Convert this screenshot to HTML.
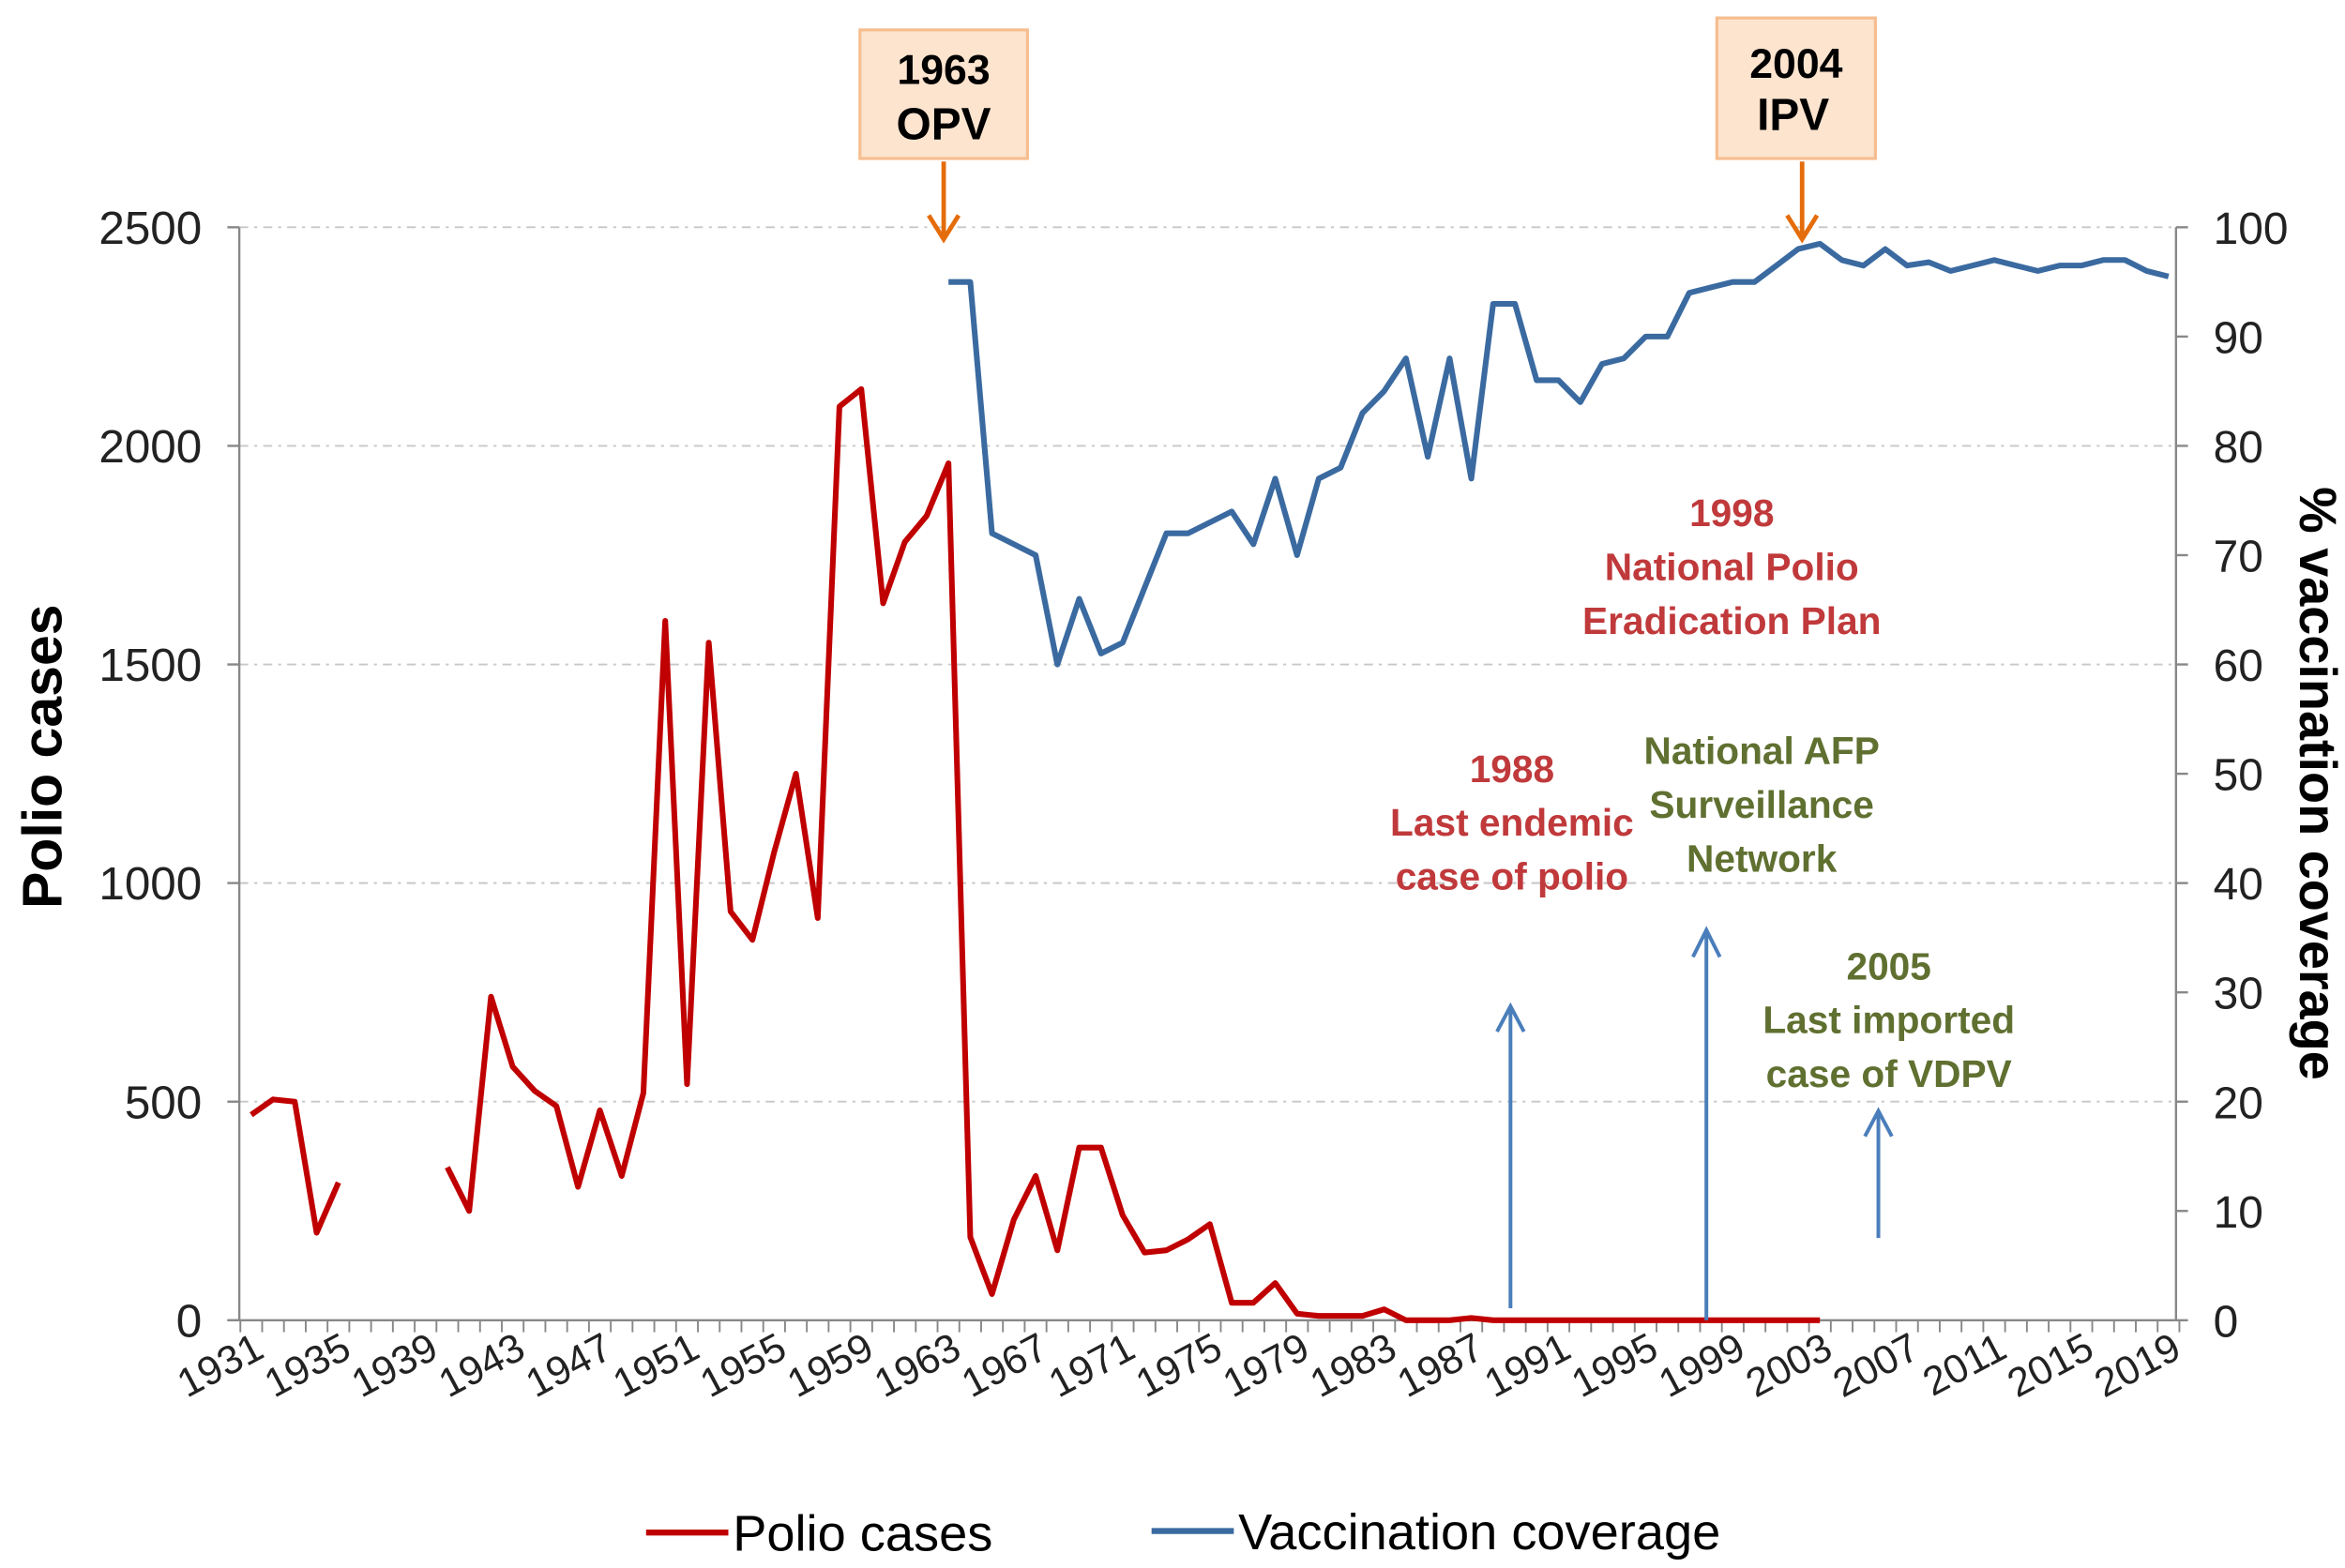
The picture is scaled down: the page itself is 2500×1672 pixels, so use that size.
<!DOCTYPE html>
<html><head><meta charset="utf-8"><style>
html,body{margin:0;padding:0;background:#fff}
svg{display:block}
text{font-family:"Liberation Sans",Arial,sans-serif}
</style></head><body>
<svg id="chart" width="2500" height="1672" viewBox="0 0 1568 1048.7" xmlns="http://www.w3.org/2000/svg">
<g id="grid"></g>
<g id="axes"></g>
<g id="series"></g>
<g id="annot">
  <rect x="575" y="20" width="112" height="86" fill="#fde4cf" stroke="#f6bd8f" stroke-width="2"/>
  <text x="631" y="56" font-size="28" font-weight="bold" text-anchor="middle">1963</text>
  <text x="631" y="93" font-size="30" font-weight="bold" text-anchor="middle">OPV</text>
  <rect x="1148" y="12" width="106" height="94" fill="#fde4cf" stroke="#f6bd8f" stroke-width="2"/>
  <text x="1201" y="52" font-size="28" font-weight="bold" text-anchor="middle">2004</text>
  <text x="1199" y="87" font-size="30" font-weight="bold" text-anchor="middle">IPV</text>
  <g stroke="#e46c0a" stroke-width="3" fill="none">
    <path d="M631 108 V158 M621 144 L631 160 L641 144"/>
    <path d="M1205 108 V158 M1195 144 L1205 160 L1215 144"/>
  </g>
  <g stroke="#4a7ebb" stroke-width="2.5" fill="none">
    <path d="M1010 875 V674 M1001 690 L1010 673 L1019 690"/>
    <path d="M1141 883 V623 M1132 640 L1141 622 L1150 640"/>
    <path d="M1256 828 V744 M1247 760 L1256 743 L1265 760"/>
  </g>
  <g font-size="25.5" font-weight="bold" text-anchor="middle" fill="#c0393b">
    <text x="1158" y="352">1998</text>
    <text x="1158" y="388">National Polio</text>
    <text x="1158" y="424">Eradication Plan</text>
    <text x="1011" y="523">1988</text>
    <text x="1011" y="559">Last endemic</text>
    <text x="1011" y="595">case of polio</text>
  </g>
  <g font-size="25.5" font-weight="bold" text-anchor="middle" fill="#5f7030">
    <text x="1178" y="511">National AFP</text>
    <text x="1178" y="547">Surveillance</text>
    <text x="1178" y="583">Network</text>
    <text x="1263" y="655">2005</text>
    <text x="1263" y="691">Last imported</text>
    <text x="1263" y="727">case of VDPV</text>
  </g>
</g>
<text transform="translate(41,506) rotate(-90)" font-size="37" font-weight="bold" text-anchor="middle">Polio cases</text>
<text transform="translate(1538,524) rotate(90)" font-size="35" font-weight="bold" text-anchor="middle">% vaccination coverage</text>
<g>
  <line x1="432" y1="1025" x2="487" y2="1025" stroke="#c00000" stroke-width="4"/>
  <text x="490" y="1037" font-size="34">Polio cases</text>
  <line x1="770" y1="1024" x2="825" y2="1024" stroke="#3a6aa0" stroke-width="4"/>
  <text x="828" y="1036" font-size="34">Vaccination coverage</text>
</g>
<script>
const years=[];for(let y=1931;y<=2019;y++)years.push(y);
const polioYears=[1931,1932,1933,1934,1935,1936,1937,1938,1939,1940,1941,1942,1943,1944,1945,1946,1947,1948,1949,1950,1951,1952,1953,1954,1955,1956,1957,1958,1959,1960,1961,1962,1963,1964,1965,1966,1967,1968,1969,1970,1971,1972,1973,1974,1975,1976,1977,1978,1979,1980,1981,1982,1983,1984,1985,1986,1987,1988,1989,1990,1991,1992,1993,1994,1995,1996,1997,1998,1999,2000,2001,2002,2003];
const polioCases=[470,505,500,200,315,null,null,null,null,350,250,740,580,525,490,305,480,330,520,1600,540,1550,935,870,1070,1250,920,2090,2130,1640,1780,1840,1960,190,60,230,330,160,395,395,240,155,160,185,220,40,40,85,15,10,10,10,25,0,0,0,5,0,0,0,0,0,0,0,0,0,0,0,0,0,0,0,0];
const vaccYears=[];for(let y=1963;y<=2019;y++)vaccYears.push(y);
const vaccCoverage=[95,95,72,71,70,60,66,61,62,67,72,72,73,74,71,77,70,77,78,83,85,88,79,88,77,93,93,86,86,84,87.5,88,90,90,94,94.5,95,95,96.5,98,98.5,97,96.5,98,96.5,96.8,96,96.5,97,96.5,96,96.5,96.5,97,97,96,95.5];
const leftTicks=[0,500,1000,1500,2000,2500];
const rightTicks=[0,10,20,30,40,50,60,70,80,90,100];
const yearLabels=[1931,1935,1939,1943,1947,1951,1955,1959,1963,1967,1971,1975,1979,1983,1987,1991,1995,1999,2003,2007,2011,2015,2019];
const NS='http://www.w3.org/2000/svg';
const X0=160,X1=1455,Y0=883,Ytop=152;
const xs=y=>168+(y-1931)*(1450-168)/88;
const yl=v=>Y0-v/2500*(Y0-Ytop);
const yr=v=>Y0-v/100*(Y0-Ytop);
function mk(tag,attrs,parent){const e=document.createElementNS(NS,tag);for(const k in attrs)e.setAttribute(k,attrs[k]);parent.appendChild(e);return e;}
const grid=document.getElementById('grid'),axes=document.getElementById('axes'),series=document.getElementById('series');
leftTicks.forEach(v=>{
  if(v>0){const g=mk('line',{x1:X0,x2:X1,y1:yl(v),y2:yl(v),stroke:'#c8c8c8','stroke-width':1.2,'stroke-dasharray':'6 4 2 4'},grid);
  
  }
  const t=mk('text',{x:135,y:yl(v)+11,'font-size':31,'text-anchor':'end',fill:'#222'},axes);t.textContent=v;
  
  
  const tk=mk('line',{x1:X0-8,x2:X0,y1:yl(v),y2:yl(v),stroke:'#888','stroke-width':1.5},axes);
  
  
});
rightTicks.forEach(v=>{
  const t=mk('text',{x:1480,y:yr(v)+11,'font-size':30,fill:'#222'},axes);t.textContent=v;
  
  
  const tk=mk('line',{x1:X1,x2:X1+8,y1:yr(v),y2:yr(v),stroke:'#888','stroke-width':1.5},axes);
  
  
});
let a=mk('line',{x1:X0,x2:X0,y1:Ytop,y2:Y0,stroke:'#888','stroke-width':1.5},axes);


a=mk('line',{x1:X1,x2:X1,y1:Ytop,y2:Y0,stroke:'#888','stroke-width':1.5},axes);


a=mk('line',{x1:X0-8,x2:X1,y1:Y0,y2:Y0,stroke:'#888','stroke-width':1.5},axes);


for(let y=1930.5;y<=2019.6;y+=1){const tk=mk('line',{x1:xs(y),x2:xs(y),y1:Y0,y2:Y0+8,stroke:'#888','stroke-width':1.2},axes);
  
  }
yearLabels.forEach(y=>{
  const t=mk('text',{transform:`translate(${xs(y)+10},${Y0+24}) rotate(-28)`,'font-size':27,'text-anchor':'end',fill:'#222'},axes);t.textContent=y;
  
  
});
function path(xv,vals,sc){let d='',pen=false;vals.forEach((v,i)=>{if(v===null){pen=false;return;}d+=(pen?'L':'M')+xs(xv[i]).toFixed(1)+' '+sc(v).toFixed(1)+' ';pen=true;});return d;}
const pr=mk('path',{d:path(polioYears,polioCases,yl),fill:'none',stroke:'#c00000','stroke-width':3.8,'stroke-linejoin':'round'},series);


const vb=mk('path',{d:path(vaccYears,vaccCoverage,yr),fill:'none',stroke:'#3a6aa0','stroke-width':3.8,'stroke-linejoin':'round'},series);


</script>
</svg>
</body></html>
